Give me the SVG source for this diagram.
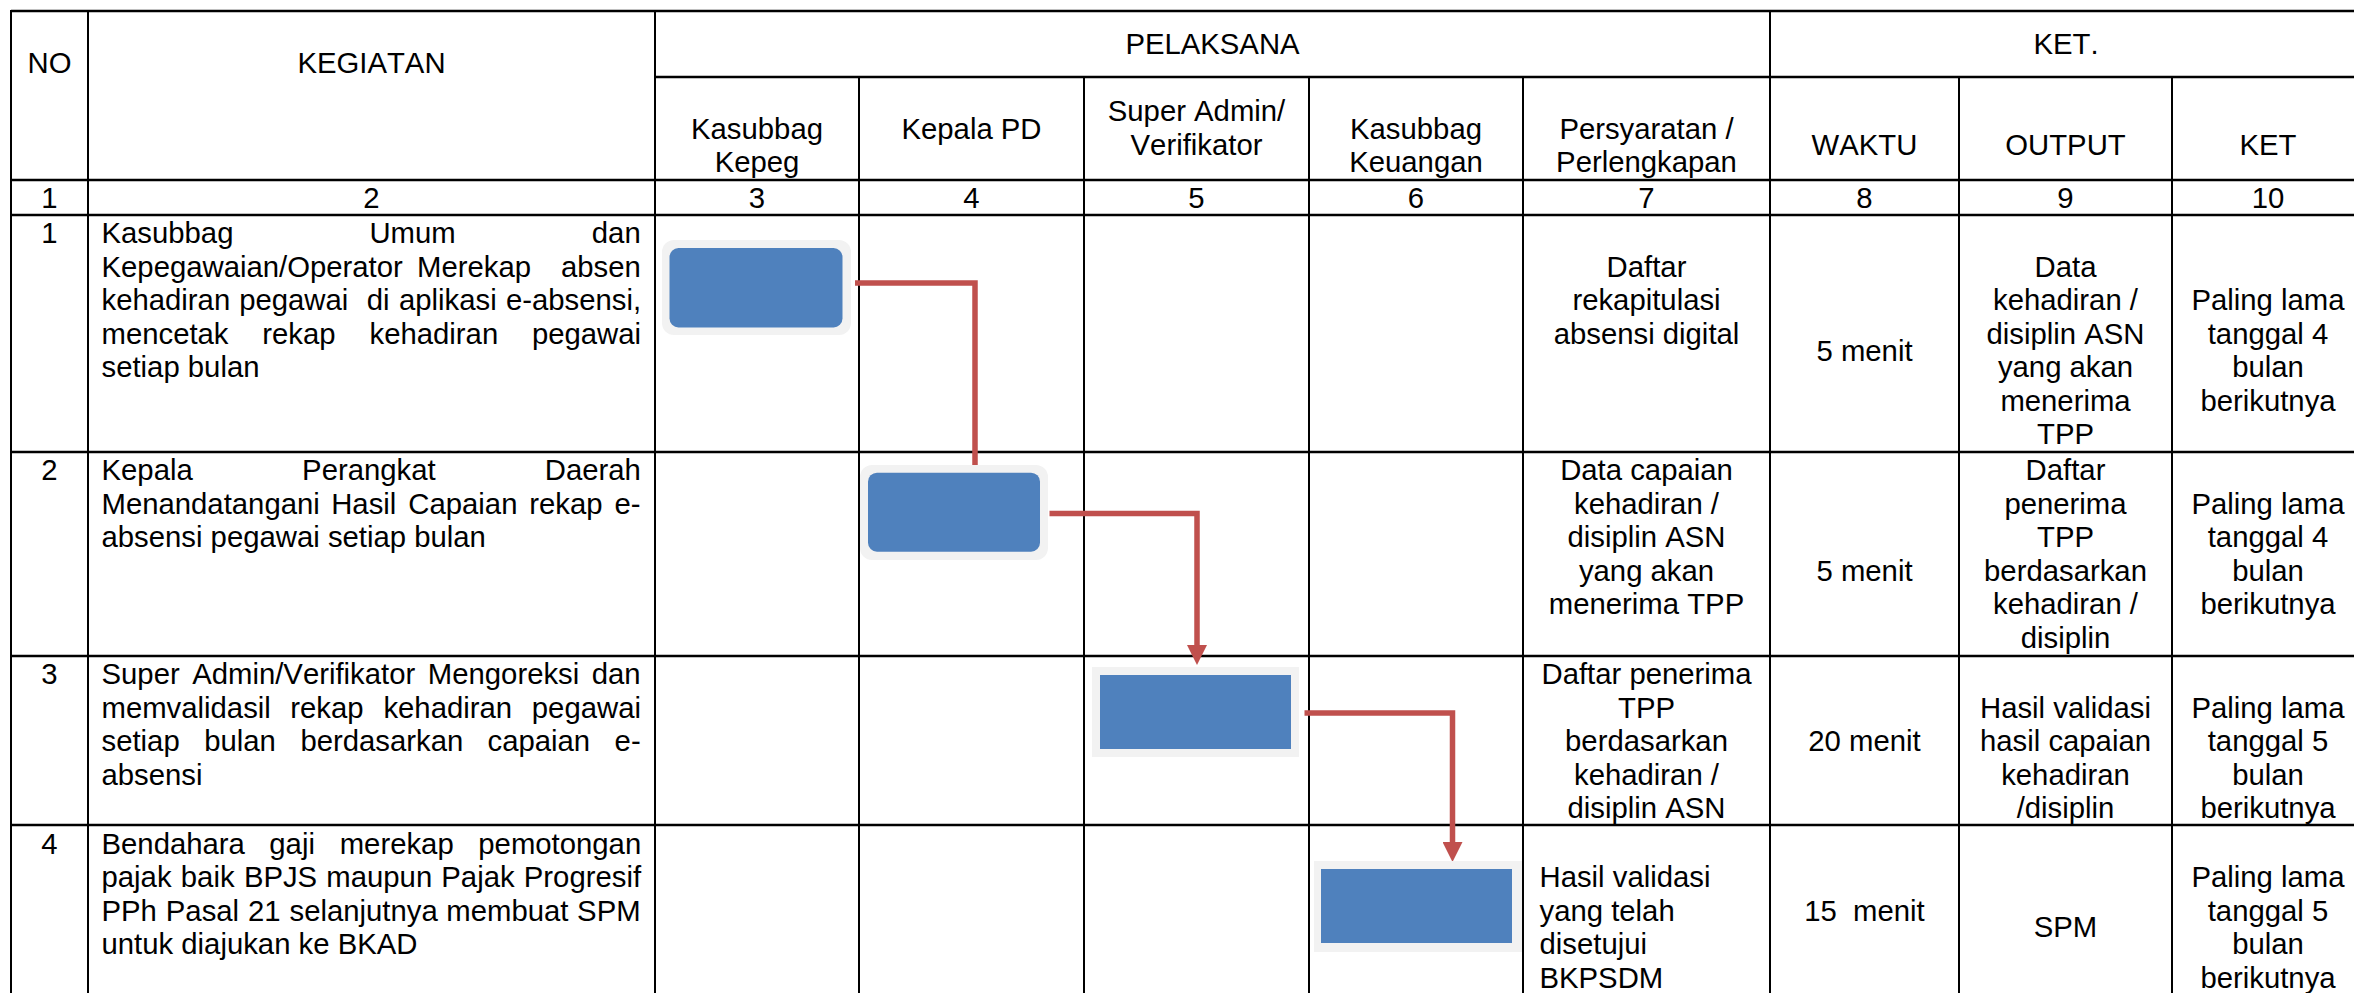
<svg xmlns="http://www.w3.org/2000/svg" width="2354" height="993" viewBox="0 0 2354 993">
<style>
text{font-family:"Liberation Sans",Arial,sans-serif;font-size:29.3px;fill:#000;font-kerning:none}
.c{text-anchor:middle}
.h{stroke:#000;stroke-width:2.7}
.v{stroke:#000;stroke-width:2}
.halo{fill:#F2F2F2}
.box{fill:#4F81BD}
.conn{fill:none;stroke:#C0504D;stroke-width:5.5;stroke-linejoin:miter}
</style>
<defs>
<marker id="arr" markerUnits="userSpaceOnUse" markerWidth="20" markerHeight="20" viewBox="0 0 20 20" refX="10" refY="10" orient="auto">
<path d="M0,0 L20,10 L0,20 z" fill="#C0504D"/>
</marker>
</defs>
<rect width="2354" height="993" fill="#fff"/>
<g id="grid">
<line class="h" x1="11" y1="11" x2="2354" y2="11"/>
<line class="h" x1="655" y1="77" x2="2354" y2="77"/>
<line class="h" x1="11" y1="180" x2="2354" y2="180"/>
<line class="h" x1="11" y1="215" x2="2354" y2="215"/>
<line class="h" x1="11" y1="452" x2="2354" y2="452"/>
<line class="h" x1="11" y1="656" x2="2354" y2="656"/>
<line class="h" x1="11" y1="825" x2="2354" y2="825"/>
<line class="v" x1="11" y1="10" x2="11" y2="993"/>
<line class="v" x1="88" y1="10" x2="88" y2="993"/>
<line class="v" x1="655" y1="10" x2="655" y2="993"/>
<line class="v" x1="1770" y1="10" x2="1770" y2="993"/>
<line class="v" x1="859" y1="77" x2="859" y2="993"/>
<line class="v" x1="1084" y1="77" x2="1084" y2="993"/>
<line class="v" x1="1309" y1="77" x2="1309" y2="993"/>
<line class="v" x1="1523" y1="77" x2="1523" y2="993"/>
<line class="v" x1="1959" y1="77" x2="1959" y2="993"/>
<line class="v" x1="2172" y1="77" x2="2172" y2="993"/>
</g>
<g id="header">
<text class="c" x="49.5" y="73">NO</text>
<text class="c" x="371.5" y="73">KEGIATAN</text>
<text class="c" x="1212.5" y="54">PELAKSANA</text>
<text class="c" x="2066" y="54">KET.</text>
<text class="c" x="757" y="139">Kasubbag</text>
<text class="c" x="757" y="172">Kepeg</text>
<text class="c" x="971.5" y="139">Kepala PD</text>
<text class="c" x="1196.5" y="121">Super Admin/</text>
<text class="c" x="1196.5" y="155">Verifikator</text>
<text class="c" x="1416" y="139">Kasubbag</text>
<text class="c" x="1416" y="172">Keuangan</text>
<text class="c" x="1646.5" y="139">Persyaratan /</text>
<text class="c" x="1646.5" y="172">Perlengkapan</text>
<text class="c" x="1864.5" y="155">WAKTU</text>
<text class="c" x="2065.5" y="155">OUTPUT</text>
<text class="c" x="2268" y="155">KET</text>
<text class="c" x="49.5" y="208">1</text>
<text class="c" x="371.5" y="208">2</text>
<text class="c" x="757" y="208">3</text>
<text class="c" x="971.5" y="208">4</text>
<text class="c" x="1196.5" y="208">5</text>
<text class="c" x="1416" y="208">6</text>
<text class="c" x="1646.5" y="208">7</text>
<text class="c" x="1864.5" y="208">8</text>
<text class="c" x="2065.5" y="208">9</text>
<text class="c" x="2268" y="208">10</text>
</g>
<g id="row1">
<text class="c" x="49.5" y="243">1</text>
<text y="243"><tspan x="101.5">Kasubbag</tspan><tspan x="369.4">Umum</tspan><tspan x="591.8">dan</tspan></text>
<text y="276.5"><tspan x="101.5">Kepegawaian/Operator</tspan><tspan x="417">Merekap</tspan><tspan x="561">absen</tspan></text>
<text y="310"><tspan x="101.5">kehadiran</tspan><tspan x="239.2">pegawai</tspan><tspan x="366.8">di</tspan><tspan x="399">aplikasi</tspan><tspan x="505.9">e-absensi,</tspan></text>
<text y="343.5"><tspan x="101.5">mencetak</tspan><tspan x="262.3">rekap</tspan><tspan x="369.5">kehadiran</tspan><tspan x="531.9">pegawai</tspan></text>
<text x="101.5" y="377">setiap bulan</text>
<text class="c" x="1646.5" y="276.5">Daftar</text>
<text class="c" x="1646.5" y="310">rekapitulasi</text>
<text class="c" x="1646.5" y="343.5">absensi digital</text>
<text class="c" x="1864.5" y="361">5 menit</text>
<text class="c" x="2065.5" y="276.5">Data</text>
<text class="c" x="2065.5" y="310">kehadiran /</text>
<text class="c" x="2065.5" y="343.5">disiplin ASN</text>
<text class="c" x="2065.5" y="377">yang akan</text>
<text class="c" x="2065.5" y="410.5">menerima</text>
<text class="c" x="2065.5" y="444">TPP</text>
<text class="c" x="2268" y="310">Paling lama</text>
<text class="c" x="2268" y="343.5">tanggal 4</text>
<text class="c" x="2268" y="377">bulan</text>
<text class="c" x="2268" y="410.5">berikutnya</text>
</g>
<g id="row2">
<text class="c" x="49.5" y="480">2</text>
<text y="480"><tspan x="101.5">Kepala</tspan><tspan x="302.1">Perangkat</tspan><tspan x="544.8">Daerah</tspan></text>
<text y="513.5"><tspan x="101.5">Menandatangani</tspan><tspan x="331.2">Hasil</tspan><tspan x="408.3">Capaian</tspan><tspan x="529.2">rekap</tspan><tspan x="614.4">e-</tspan></text>
<text x="101.5" y="547">absensi pegawai setiap bulan</text>
<text class="c" x="1646.5" y="480">Data capaian</text>
<text class="c" x="1646.5" y="513.5">kehadiran /</text>
<text class="c" x="1646.5" y="547">disiplin ASN</text>
<text class="c" x="1646.5" y="580.5">yang akan</text>
<text class="c" x="1646.5" y="614">menerima TPP</text>
<text class="c" x="1864.5" y="581">5 menit</text>
<text class="c" x="2065.5" y="480">Daftar</text>
<text class="c" x="2065.5" y="513.5">penerima</text>
<text class="c" x="2065.5" y="547">TPP</text>
<text class="c" x="2065.5" y="580.5">berdasarkan</text>
<text class="c" x="2065.5" y="614">kehadiran /</text>
<text class="c" x="2065.5" y="647.5">disiplin</text>
<text class="c" x="2268" y="513.5">Paling lama</text>
<text class="c" x="2268" y="547">tanggal 4</text>
<text class="c" x="2268" y="580.5">bulan</text>
<text class="c" x="2268" y="614">berikutnya</text>
</g>
<g id="row3">
<text class="c" x="49.5" y="684">3</text>
<text y="684"><tspan x="101.5">Super</tspan><tspan x="192.2">Admin/Verifikator</tspan><tspan x="427.8">Mengoreksi</tspan><tspan x="591.7">dan</tspan></text>
<text y="717.5"><tspan x="101.5">memvalidasil</tspan><tspan x="290.3">rekap</tspan><tspan x="383.4">kehadiran</tspan><tspan x="531.8">pegawai</tspan></text>
<text y="751"><tspan x="101.5">setiap</tspan><tspan x="204.2">bulan</tspan><tspan x="300.4">berdasarkan</tspan><tspan x="487.5">capaian</tspan><tspan x="614.6">e-</tspan></text>
<text x="101.5" y="784.5">absensi</text>
<text class="c" x="1646.5" y="684">Daftar penerima</text>
<text class="c" x="1646.5" y="717.5">TPP</text>
<text class="c" x="1646.5" y="751">berdasarkan</text>
<text class="c" x="1646.5" y="784.5">kehadiran /</text>
<text class="c" x="1646.5" y="818">disiplin ASN</text>
<text class="c" x="1864.5" y="751">20 menit</text>
<text class="c" x="2065.5" y="717.5">Hasil validasi</text>
<text class="c" x="2065.5" y="751">hasil capaian</text>
<text class="c" x="2065.5" y="784.5">kehadiran</text>
<text class="c" x="2065.5" y="818">/disiplin</text>
<text class="c" x="2268" y="717.5">Paling lama</text>
<text class="c" x="2268" y="751">tanggal 5</text>
<text class="c" x="2268" y="784.5">bulan</text>
<text class="c" x="2268" y="818">berikutnya</text>
</g>
<g id="row4">
<text class="c" x="49.5" y="853.5">4</text>
<text y="853.5"><tspan x="101.5">Bendahara</tspan><tspan x="269.3">gaji</tspan><tspan x="339.7">merekap</tspan><tspan x="478.3">pemotongan</tspan></text>
<text y="887"><tspan x="101.5">pajak</tspan><tspan x="180.8">baik</tspan><tspan x="243.9">BPJS</tspan><tspan x="326.3">maupun</tspan><tspan x="441.3">Pajak</tspan><tspan x="523.8">Progresif</tspan></text>
<text y="920.5"><tspan x="101.5">PPh</tspan><tspan x="165.8">Pasal</tspan><tspan x="247.9">21</tspan><tspan x="289.5">selanjutnya</tspan><tspan x="446.3">membuat</tspan><tspan x="577.1">SPM</tspan></text>
<text x="101.5" y="954">untuk diajukan ke BKAD</text>
<text x="1539.5" y="887">Hasil validasi</text>
<text x="1539.5" y="920.5">yang telah</text>
<text x="1539.5" y="954">disetujui</text>
<text x="1539.5" y="987.5">BKPSDM</text>
<text class="c" x="1864.5" y="920.5">15&#160; menit</text>
<text class="c" x="2065.5" y="937">SPM</text>
<text class="c" x="2268" y="887">Paling lama</text>
<text class="c" x="2268" y="920.5">tanggal 5</text>
<text class="c" x="2268" y="954">bulan</text>
<text class="c" x="2268" y="987.5">berikutnya</text>
</g>
<g id="connectors">
<path class="conn" d="M855,283 H975 V466"/>
<path class="conn" d="M1049.5,513.5 H1197 V655" marker-end="url(#arr)"/>
<path class="conn" d="M1304.5,713 H1452.5 V852" marker-end="url(#arr)"/>
</g>
<g id="node1">
<rect class="halo" x="662" y="240" width="189" height="95" rx="12"/>
<rect class="box" x="669.5" y="248" width="173" height="79.5" rx="9"/>
</g>
<g id="node2">
<rect class="halo" x="860" y="465" width="188" height="95" rx="12"/>
<rect class="box" x="868" y="472.7" width="172" height="79" rx="9"/>
</g>
<g id="node3">
<rect class="halo" x="1092" y="667" width="207" height="90"/>
<rect class="box" x="1100" y="675" width="191" height="74"/>
</g>
<g id="node4">
<rect class="halo" x="1314" y="861" width="208" height="91"/>
<rect class="box" x="1321" y="869" width="191" height="74"/>
</g>
</svg>
